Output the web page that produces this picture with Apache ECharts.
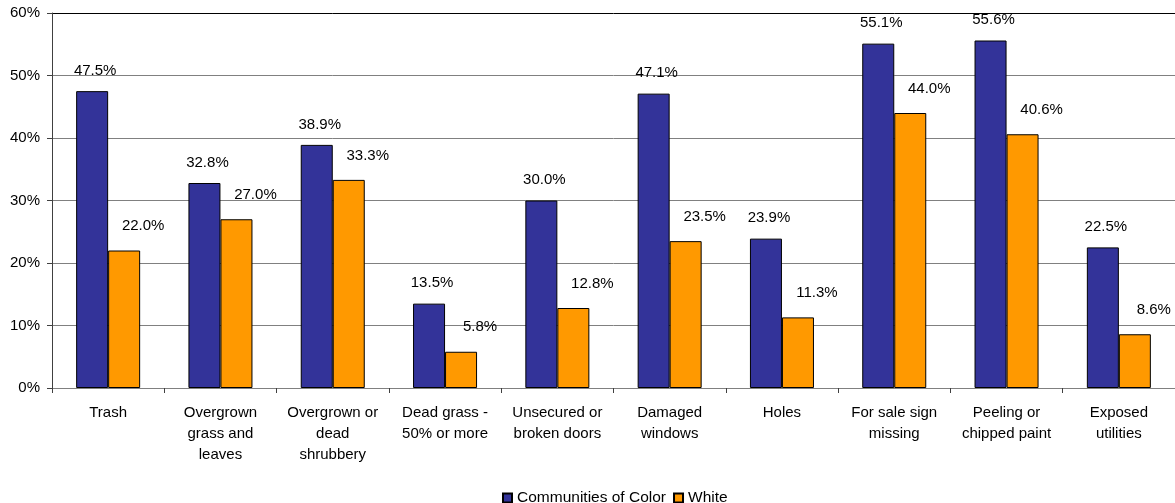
<!DOCTYPE html>
<html>
<head>
<meta charset="utf-8">
<script src="https://cdn.jsdelivr.net/npm/echarts@6/dist/echarts.min.js"></script>
<style>
html,body{margin:0;padding:0;background:#fff;}
#chart{width:1175px;height:503px;}
</style>
</head>
<body>
<div id="chart"></div>
<script>
const categories = [
  "Trash",
  "Overgrown\ngrass and\nleaves",
  "Overgrown or\ndead\nshrubbery",
  "Dead grass -\n50% or more",
  "Unsecured or\nbroken doors",
  "Damaged\nwindows",
  "Holes",
  "For sale sign\nmissing",
  "Peeling or\nchipped paint",
  "Exposed\nutilities"
];
const seriesNames = ["Communities of Color", "White"];
const colorValues = [47.5, 32.8, 38.9, 13.5, 30.0, 47.1, 23.9, 55.1, 55.6, 22.5];
const whiteValues = [22.0, 27.0, 33.3, 5.8, 12.8, 23.5, 11.3, 44.0, 40.6, 8.6];
const yTicks = [0, 10, 20, 30, 40, 50, 60];

const FONT = "Liberation Sans, Arial, sans-serif";
const chart = echarts.init(document.getElementById('chart'), null, {renderer: 'canvas'});
const labelFmt = p => p.value.toFixed(1) + '%';
chart.setOption({
  animation: false,
  backgroundColor: '#fff',
  textStyle: {fontFamily: FONT, color: '#000'},
  grid: {left: 52, top: 13, width: 1124, height: 375, containLabel: false},
  legend: {
    left: 497, top: 485,
    itemWidth: 9, itemHeight: 9, itemGap: 7,
    icon: 'rect',
    textStyle: {fontFamily: FONT, fontSize: 15.5, color: '#000'},
    data: seriesNames
  },
  xAxis: {
    type: 'category',
    data: categories,
    axisLine: {lineStyle: {color: '#808080', width: 1}},
    axisTick: {show: true, length: 5, lineStyle: {color: '#404040'}},
    axisLabel: {fontFamily: FONT, fontSize: 15, color: '#000', margin: 14, lineHeight: 21, interval: 0}
  },
  yAxis: {
    type: 'value',
    min: yTicks[0], max: yTicks[yTicks.length - 1], interval: 10,
    axisLine: {show: true, lineStyle: {color: '#404040'}},
    axisTick: {show: true, length: 5, inside: false, lineStyle: {color: '#404040'}},
    axisLabel: {fontFamily: FONT, fontSize: 15, color: '#000', margin: 12, formatter: '{value}%'},
    splitLine: {show: true, lineStyle: {color: ['#808080','#808080','#808080','#808080','#808080','#808080','#000000'], width: 1}}
  },
  series: [
    {
      name: seriesNames[0], type: 'bar', data: colorValues,
      barGap: '0%', barCategoryGap: '43%',
      itemStyle: {color: '#333399', borderColor: '#000', borderWidth: 1},
      label: {show: true, position: 'top', distance: 13, offset: [3, 0], formatter: labelFmt,
              fontFamily: FONT, fontSize: 15, color: '#000'}
    },
    {
      name: seriesNames[1], type: 'bar', data: whiteValues,
      barGap: '0%', barCategoryGap: '43%',
      itemStyle: {color: '#FF9900', borderColor: '#000', borderWidth: 1},
      label: {show: true, position: 'top', distance: 17, offset: [19, 0], formatter: labelFmt,
              fontFamily: FONT, fontSize: 15, color: '#000'}
    }
  ]
});
</script>
</body>
</html>
